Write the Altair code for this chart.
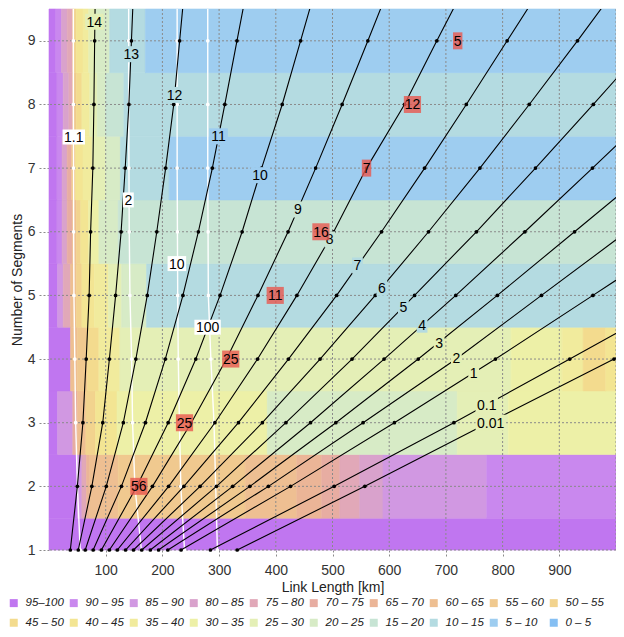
import altair as alt
import pandas as pd

# ---------------- legend classes ----------------
class_labels = ["95–100", "90 – 95", "85 – 90", "80 – 85", "75 – 80", "70 – 75",
                "65 – 70", "60 – 65", "55 – 60", "50 – 55", "45 – 50", "40 – 45",
                "35 – 40", "30 – 35", "25 – 30", "20 – 25", "15 – 20", "10 – 15",
                "5 – 10", "0 – 5"]
class_colors = ["#c076f0", "#c988ee", "#d198e2", "#d9a2cc", "#e1a8b8", "#e7ada2",
                "#ebb597", "#eebf92", "#f0c98f", "#f2d38e", "#f3db8e", "#f3e593",
                "#f1eb9d", "#edf0a7", "#e4efb6", "#d7ebc6", "#c7e4d4", "#b4dbe1",
                "#9ecdf0", "#85bff3"]

x_ticks = [100, 200, 300, 400, 500, 600, 700, 800, 900]
x_grid = [100, 200, 300, 400, 500, 600, 700, 800, 900, 1000]
segments = [1, 2, 3, 4, 5, 6, 7, 8, 9]

# ---------------- heat map bands (run edges in km, class index per run) ----------------
band1_edges = [0, 1000]
band1_cls = [0]
band2_edges = [0, 50, 58, 66, 72, 122, 346, 437, 481, 513, 548, 589, 772, 1000]
band2_cls = [0, 2, 4, 6, 7, 8, 7, 6, 5, 4, 3, 2, 1]
band3_edges = [0, 15, 42, 50, 65, 82, 120, 385, 720, 810, 1000]
band3_cls = [0, 2, 5, 7, 9, 11, 13, 15, 14, 13]
band4_edges = [0, 38, 50, 68, 88, 125, 815, 905, 942, 982, 1000]
band4_cls = [0, 7, 8, 10, 12, 14, 13, 12, 10, 11]
band5_edges = [0, 15, 25, 38, 48, 58, 80, 105, 128, 172, 1000]
band5_cls = [0, 2, 4, 7, 9, 11, 12, 14, 15, 17]
band6_edges = [0, 14, 23, 32, 41, 48, 56, 70, 88, 122, 1000]
band6_cls = [0, 1, 3, 5, 7, 9, 11, 13, 15, 16]
band7_edges = [0, 14, 23, 32, 40, 47, 60, 76, 100, 126, 212, 1000]
band7_cls = [0, 1, 3, 5, 8, 11, 12, 14, 15, 17, 18]
band8_edges = [0, 14, 25, 35, 42, 48, 58, 72, 85, 100, 132, 1000]
band8_cls = [0, 1, 3, 4, 8, 10, 12, 14, 15, 16, 17]
band9_edges = [0, 12, 22, 32, 42, 48, 60, 70, 82, 107, 170, 1000]
band9_cls = [0, 1, 3, 4, 9, 11, 12, 14, 15, 17, 18]

# ---------------- black lines: link length at segments 1, 2, 3, ... ----------------
line_14 = [37.6, 50.0, 59.8, 65.6, 70.8, 73.4, 77.3, 79.2, 80.5, 82.0]
line_13 = [51.6, 75.6, 94.8, 106.5, 117.5, 127.2, 134.4, 140.9, 145.4, 150.0]
line_12 = [63.9, 101.0, 131.1, 153.2, 173.3, 190.1, 205.7, 220.0, 230.4, 241.0]
line_11 = [77.9, 127.7, 170.0, 205.1, 236.2, 263.4, 288.1, 310.1, 331.5, 353.0]
line_10 = [92.4, 155.0, 210.2, 258.9, 301.7, 340.6, 375.0, 411.3, 443.7, 476.0]
line_9 = [106.4, 182.5, 251.0, 313.0, 368.5, 421.7, 470.3, 517.0, 562.4, 607.0]
line_8 = [120.4, 211.0, 292.6, 367.8, 437.2, 502.1, 560.0, 627.0, 684.0, 742.0]
line_7 = [135.0, 237.9, 334.1, 422.3, 507.3, 586.4, 662.5, 736.0, 808.0, 880.0]
line_6 = [149.0, 266.5, 376.3, 478.1, 575.4, 669.4, 760.0, 847.0, 932.0, 1015.0]
line_5 = [163.5, 295.3, 417.8, 534.5, 644.7, 753.8, 858.0, 960.0, 1060.0]
line_4 = [178.7, 324.0, 461.2, 591.0, 717.4, 839.3, 958.5, 1076.0]
line_3 = [193.2, 354.3, 505.9, 651.2, 790.7, 926.9, 1063.0]
line_2 = [209.6, 387.0, 553.9, 718.0, 868.5, 1019.0]
line_1 = [232.9, 426.0, 609.1, 787.4, 959.3, 1130.0]
line_0_1 = [284.7, 503.0, 714.1, 918.4, 1120.0]
line_0_01 = [331.9, 557.0, 775.0, 996.5, 1205.0]

# ---------------- white lines ----------------
white_1_1 = [55.0, 50.1, 47.0, 45.5, 44.0, 43.5, 43.3, 43.0, 43.0, 43.0]
white_2 = [163.0, 151.5, 147.4, 145.7, 142.8, 141.5, 141.0, 140.5, 140.5, 140.5]
white_10 = [239.0, 232.5, 230.0, 228.0, 227.0, 226.5, 226.0, 226.0, 226.0, 226.0]
white_100 = [297.0, 294.0, 291.0, 285.5, 281.0, 280.5, 280.0, 280.0, 280.0, 280.0]

# ---------------- labels ----------------
black_lab_text = ["14", "13", "12", "11", "10", "9", "8", "7", "6", "5", "4", "3", "2", "1", "0.1", "0.01"]
black_lab_x = [80, 145, 221.5, 299, 372, 439, 495, 544, 587, 625, 658, 688, 718.5, 749, 772, 779]
black_lab_n = [9.30, 8.79, 8.15, 7.50, 6.89, 6.35, 5.88, 5.47, 5.12, 4.82, 4.54, 4.26, 4.01, 3.78, 3.28, 3.00]
black_lab_cls = [14, 17, 17, 18, 18, 16, 16, 17, 17, 17, 17, 14, 14, 14, 14, 14]

white_lab_text = ["1.1", "2", "10", "100"]
white_lab_x = [43.7, 140, 225.5, 279.7]
white_lab_n = [7.49, 6.5, 5.5, 4.5]

red_lab_text = ["56", "25", "25", "11", "16", "7", "12", "5"]
red_lab_x = [158.5, 239, 320.5, 399, 479.6, 560, 641, 720.8]
red_lab_n = [2, 3, 4, 5, 6, 7, 8, 9]

# ---------------- build tables ----------------
bands = [(1, band1_edges, band1_cls), (2, band2_edges, band2_cls), (3, band3_edges, band3_cls),
         (4, band4_edges, band4_cls), (5, band5_edges, band5_cls), (6, band6_edges, band6_cls),
         (7, band7_edges, band7_cls), (8, band8_edges, band8_cls), (9, band9_edges, band9_cls)]
heat_rows = []
for n, edges, cls in bands:
    for i, c in enumerate(cls):
        heat_rows.append({"x0": edges[i], "x1": edges[i + 1],
                          "y0": max(n - 0.5, 1.0), "y1": min(n + 0.5, 9.5),
                          "cls": class_labels[c], "hex": class_colors[c]})
heat = pd.DataFrame(heat_rows)

black_names = ["14", "13", "12", "11", "10", "9", "8", "7", "6", "5", "4", "3", "2", "1", "0.1", "0.01"]
black_series = [line_14, line_13, line_12, line_11, line_10, line_9, line_8, line_7, line_6,
                line_5, line_4, line_3, line_2, line_1, line_0_1, line_0_01]
blk = pd.DataFrame([{"name": nm, "n": i + 1, "x": v}
                    for nm, s in zip(black_names, black_series) for i, v in enumerate(s)])
blk_dots = blk[(blk["n"] <= 9) & (blk["x"] <= 1000)]

white_names = ["1.1", "2", "10", "100"]
white_series = [white_1_1, white_2, white_10, white_100]
wht = pd.DataFrame([{"name": nm, "n": i + 1, "x": v}
                    for nm, s in zip(white_names, white_series) for i, v in enumerate(s)])
wht_dots = wht[wht["n"] <= 9]


def text_w(s, size=14):
    return sum(0.556 * size if ch.isdigit() else 0.278 * size for ch in s)


blab = pd.DataFrame({"t": black_lab_text, "lx": black_lab_x, "ln": black_lab_n,
                     "bg": [class_colors[c] for c in black_lab_cls]})
blab["hw"] = [round(text_w(t) / 2 + 1.5, 1) for t in blab["t"]]
wlab = pd.DataFrame({"t": white_lab_text, "lx": white_lab_x, "ln": white_lab_n})
wlab["hw"] = [round(text_w(t) / 2 + 1.5, 1) for t in wlab["t"]]
rlab = pd.DataFrame({"t": red_lab_text, "lx": red_lab_x, "ln": red_lab_n})
rlab["hw"] = [round(text_w(t) / 2 + 0.8, 1) for t in rlab["t"]]

xs = alt.Scale(domain=[0, 1000], nice=False, zero=False)
ys = alt.Scale(domain=[1, 9.5], nice=False, zero=False)
x_axis = alt.Axis(values=x_ticks, grid=False, domain=False)
y_axis = alt.Axis(values=segments, grid=False, domain=False)


def X(f):
    return alt.X(f"{f}:Q", scale=xs, axis=x_axis, title="Link Length [km]")


def Y(f):
    return alt.Y(f"{f}:Q", scale=ys, axis=y_axis, title="Number of Segments")


heat_layer = alt.Chart(heat).mark_rect(strokeWidth=0.6).encode(
    x=X("x0"), x2="x1", y=Y("y0"), y2="y1",
    color=alt.Color("cls:N", scale=alt.Scale(domain=class_labels, range=class_colors),
                    legend=alt.Legend(orient="none", legendX=-41, legendY=588,
                                      direction="horizontal", columns=10, title=None,
                                      symbolType="square", symbolSize=64,
                                      symbolStrokeWidth=0, labelFontSize=11.5,
                                      labelFontStyle="italic", labelFont="Liberation Sans",
                                      labelColor="#222", labelOffset=6,
                                      columnPadding=4, rowPadding=7)),
    stroke=alt.Stroke("hex:N", scale=None),
)

grid_dash = [2, 2]
vgrid = alt.Chart(pd.DataFrame({"g": x_grid})).mark_rule(
    color="#8a8a8a", strokeDash=grid_dash, strokeWidth=1).encode(x=X("g"))
hgrid = alt.Chart(pd.DataFrame({"g": segments})).mark_rule(
    color="#8a8a8a", strokeDash=grid_dash, strokeWidth=1).encode(y=Y("g"))

white_lines = alt.Chart(wht).mark_line(color="white", strokeWidth=1.4, clip=True).encode(
    x=X("x"), y=Y("n"), detail="name:N", order="n:Q")
white_pts = alt.Chart(wht_dots).mark_point(filled=True, color="white", size=14, opacity=1).encode(
    x=X("x"), y=Y("n"))
black_lines = alt.Chart(blk).mark_line(color="black", strokeWidth=1.1, clip=True).encode(
    x=X("x"), y=Y("n"), detail="name:N", order="n:Q")
black_pts = alt.Chart(blk_dots).mark_point(filled=True, color="black", size=14, opacity=1).encode(
    x=X("x"), y=Y("n"))

layers = [heat_layer, vgrid, hgrid, white_lines, white_pts, black_lines, black_pts]


def boxes(df, half_h, **mark_kw):
    out = []
    for hw, sub in df.groupby("hw"):
        out.append(alt.Chart(sub).mark_rect(xOffset=-hw, x2Offset=hw, yOffset=-half_h,
                                            y2Offset=half_h, **mark_kw)
                   .encode(x=X("lx"), x2="lx", y=Y("ln"), y2="ln"))
    return out


def texts(df):
    return alt.Chart(df).mark_text(font="Liberation Sans", fontSize=14, color="black",
                                   baseline="middle", align="center", dy=1).encode(
        x=X("lx"), y=Y("ln"), text="t:N")


# black-line labels: background of the underlying cell colour
for hw, sub in blab.groupby("hw"):
    layers.append(alt.Chart(sub).mark_rect(xOffset=-hw, x2Offset=hw, yOffset=-8, y2Offset=8)
                  .encode(x=X("lx"), x2="lx", y=Y("ln"), y2="ln",
                          fill=alt.Fill("bg:N", scale=None)))
layers.append(texts(blab))
layers += boxes(wlab, 7.5, color="white", opacity=1)
layers.append(texts(wlab))
layers += boxes(rlab, 8.5, color="#e8584f", opacity=0.8)
layers.append(texts(rlab))

chart = alt.layer(*layers).properties(
    width=567, height=541,
    autosize=alt.AutoSizeParams(type="none"),
    padding={"left": 41, "top": 1, "right": 0, "bottom": 79},
).configure_view(stroke=None).configure_axis(
    labelFont="Liberation Sans", labelFontSize=14, labelColor="#333",
    titleFont="Liberation Sans", titleFontSize=14, titleFontWeight="normal", titleColor="#222",
    tickColor="#8a8a8a", tickDash=[2, 2], tickWidth=1,
).configure_axisX(tickSize=8, labelPadding=5, titlePadding=3).configure_axisY(
    tickSize=12, labelPadding=2, titlePadding=3)

chart.save("out.html", embed_options={"renderer": "svg", "actions": False})
